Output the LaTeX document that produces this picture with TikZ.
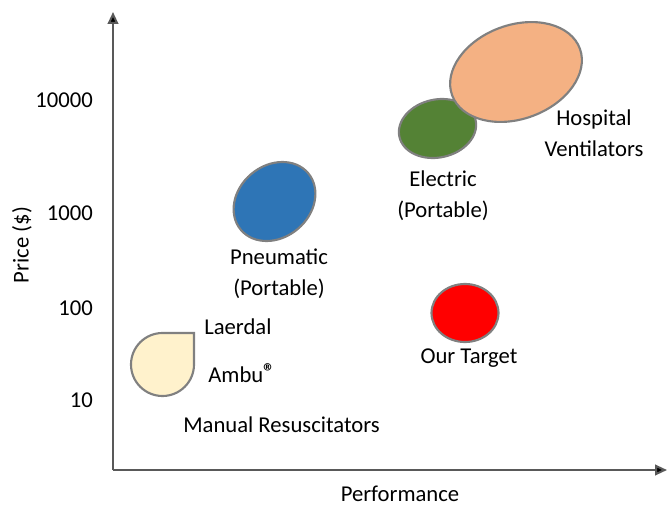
\documentclass[tikz,border=0pt]{standalone}
\usepackage{fontspec}
\setmainfont{Carlito}
\usetikzlibrary{arrows.meta}
\definecolor{edgegray}{HTML}{808080}
\definecolor{hospital}{HTML}{F4B183}
\definecolor{electric}{HTML}{548235}
\definecolor{pneumatic}{HTML}{2E75B6}
\definecolor{manual}{HTML}{FFF2CC}
\definecolor{axisgray}{HTML}{595959}
\tikzset{
  blob/.style={draw=edgegray, line width=1.6pt},
  lbl/.style={font=\fontsize{17}{20}\selectfont, text=black, align=center, inner sep=0pt},
  tick/.style={font=\fontsize{17}{20}\selectfont, anchor=east, inner sep=0pt},
  axisline/.style={draw=axisgray, line width=1.5pt, -{Triangle[length=9pt,width=8pt,fill=black]}}
}
\begin{document}
\begin{tikzpicture}[x=0.75pt,y=-0.75pt]
\useasboundingbox (0,0) rectangle (667,506);
% axes
\coordinate (O) at (113,470);
\coordinate (ytop) at (113,12);
\coordinate (xend) at (667,470);
\draw[axisline] (O) -- (ytop);
\draw[axisline] (O) -- (xend);
% ticks
\node[tick] (t10000) at (93,100) {10000};
\node[tick] (t1000) at (93,213) {1000};
\node[tick] (t100) at (93,308) {100};
\node[tick] (t10) at (93,400) {10};
\node[lbl, rotate=90] (ylab) at (22,245) {Price (\$)};
\node[lbl] (xlab) at (400,494) {Performance};
% shapes
\draw[blob, fill=electric, rotate around={12:(437.5,128.5)}] (437.5,128.5) ellipse [x radius=39, y radius=29];
\draw[blob, fill=hospital, rotate around={20:(516,72)}] (516,72) ellipse [x radius=68, y radius=47];
\draw[blob, fill=pneumatic, rotate around={40:(274.5,201.5)}] (274.5,201.5) ellipse [x radius=44, y radius=36];
\draw[blob, fill=red] (465,313) ellipse [x radius=33.5, y radius=29];
\draw[blob, fill=manual] (194,333) -- (162.5,333) arc[start angle=270, end angle=0, radius=31.5] -- cycle;
% labels
\node[lbl] (hosp) at (594,133) {Hospital\\[3pt]Ventilators};
\node[lbl] (elec) at (443,196) {Electric\\[3pt](Portable)};
\node[lbl] (pneu) at (279,274) {Pneumatic\\[3pt](Portable)};
\node[lbl] (targ) at (469,358) {Our Target};
\node[lbl, anchor=west] (laer) at (204,327) {Laerdal};
\node[lbl, anchor=west] (ambu) at (208,373) {Ambu\raisebox{2pt}{\fontsize{17}{20}\selectfont\bfseries ®}};
\node[lbl, anchor=west] (manu) at (183,425) {Manual Resuscitators};
\end{tikzpicture}
\end{document}
